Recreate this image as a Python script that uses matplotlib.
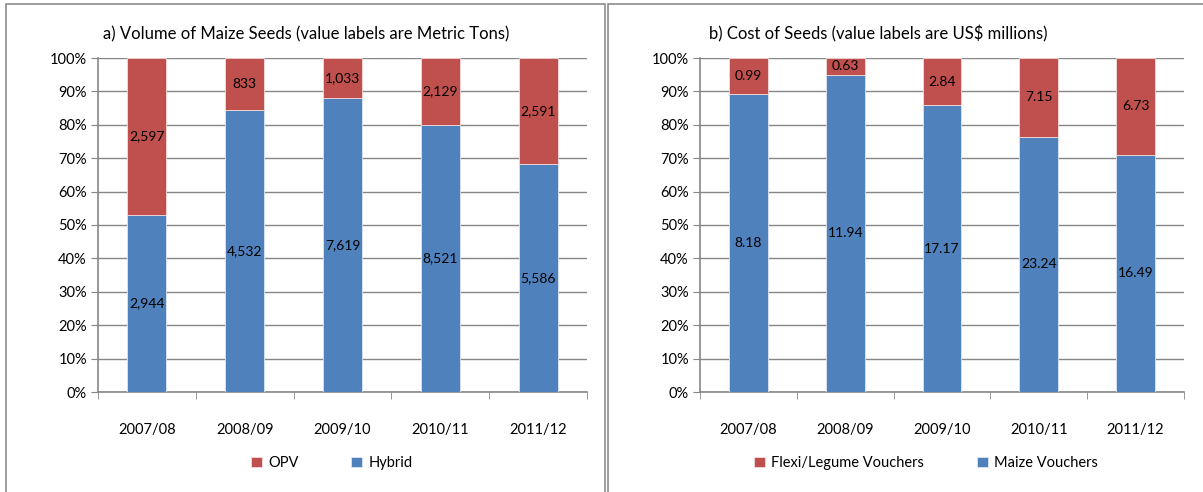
import numpy as np
import matplotlib
matplotlib.use("Agg")
import matplotlib.pyplot as plt
from matplotlib.patches import Rectangle
from matplotlib.ticker import PercentFormatter

plt.rcParams['font.family'] = ['Lato', 'DejaVu Sans']

# data
years = ['2007/08', '2008/09', '2009/10', '2010/11', '2011/12']

hybrid_tons = [2944, 4532, 7619, 8521, 5586]
opv_tons = [2597, 833, 1033, 2129, 2591]

maize_cost = [8.18, 11.94, 17.17, 23.24, 16.49]
flexi_cost = [0.99, 0.63, 2.84, 7.15, 6.73]

BLUE = '#4F81BD'
RED = '#C0504D'
GRID = '#868686'

W, H = 1203, 492
fig = plt.figure(figsize=(W / 100, H / 100), dpi=100)


def px_axes(x0, x1, y0, y1):
    # pixel box -> figure fraction
    return fig.add_axes([x0 / W, 1 - y1 / H, (x1 - x0) / W, (y1 - y0) / H])


def stacked(ax, low, high, fmt, title, tx, names, lx):
    low = np.array(low, dtype=float)
    high = np.array(high, dtype=float)
    tot = low + high
    lp = low / tot * 100
    hp = high / tot * 100
    x = np.arange(len(years))
    b1 = ax.bar(x, lp, width=0.4, color=BLUE, edgecolor='#DCE6F2', linewidth=0.6, zorder=3)
    b2 = ax.bar(x, hp, width=0.4, bottom=lp, color=RED, edgecolor='#F2DCDB', linewidth=0.6, zorder=3)
    for i in range(len(x)):
        ax.text(x[i], lp[i] / 2, fmt(low[i]), ha='center', va='center', fontsize=10, zorder=4)
        ax.text(x[i], lp[i] + hp[i] / 2, fmt(high[i]), ha='center', va='center', fontsize=10, zorder=4)

    ax.set_xlim(-0.5, len(years) - 0.5)
    ax.set_ylim(0, 100)
    ax.set_yticks(np.arange(0, 101, 10))
    ax.yaxis.set_major_formatter(PercentFormatter(decimals=0))
    ax.set_xticks(x)
    ax.set_xticklabels(years, fontsize=10.5)
    ax.set_xticks(np.arange(-0.5, len(years), 1), minor=True)
    ax.tick_params(axis='x', which='major', length=0, pad=22)
    ax.tick_params(axis='x', which='minor', length=5, color=GRID, direction='out')
    ax.tick_params(axis='y', length=5, color=GRID, labelsize=10.5, pad=3)
    ax.grid(axis='y', color=GRID, linewidth=1, zorder=0)
    for s in ['top', 'right']:
        ax.spines[s].set_visible(False)
    for s in ['left', 'bottom']:
        ax.spines[s].set_color(GRID)
        ax.spines[s].set_linewidth(1.2)

    fig.text(tx / W, 1 - 34 / H, title, ha='center', va='center', fontsize=12)
    ax.legend([b2, b1], names, loc='center', bbox_to_anchor=(lx / W, 1 - 463 / H),
              bbox_transform=fig.transFigure, ncol=2, frameon=False, fontsize=10.5,
              handlelength=0.75, handleheight=0.75, columnspacing=3.6, handletextpad=0.45)


ax1 = px_axes(98, 587, 58, 392)
stacked(ax1, hybrid_tons, opv_tons, lambda v: f'{v:,.0f}',
        'a) Volume of Maize Seeds (value labels are Metric Tons)', 306,
        ['OPV', 'Hybrid'], 332)

ax2 = px_axes(700, 1184, 58, 392)
stacked(ax2, maize_cost, flexi_cost, lambda v: f'{v:.2f}',
        'b) Cost of Seeds (value labels are US$ millions)', 878,
        ['Flexi/Legume Vouchers', 'Maize Vouchers'], 926)

# panel frames
for x0, x1 in [(6, 605), (608, 1210)]:
    fig.patches.append(Rectangle((x0 / W, -0.05), (x1 - x0) / W, 1 - 4 / H + 0.05,
                                 transform=fig.transFigure, fill=False,
                                 edgecolor='#8C8C8C', linewidth=1.2))

fig.savefig('out.png', dpi=100)
